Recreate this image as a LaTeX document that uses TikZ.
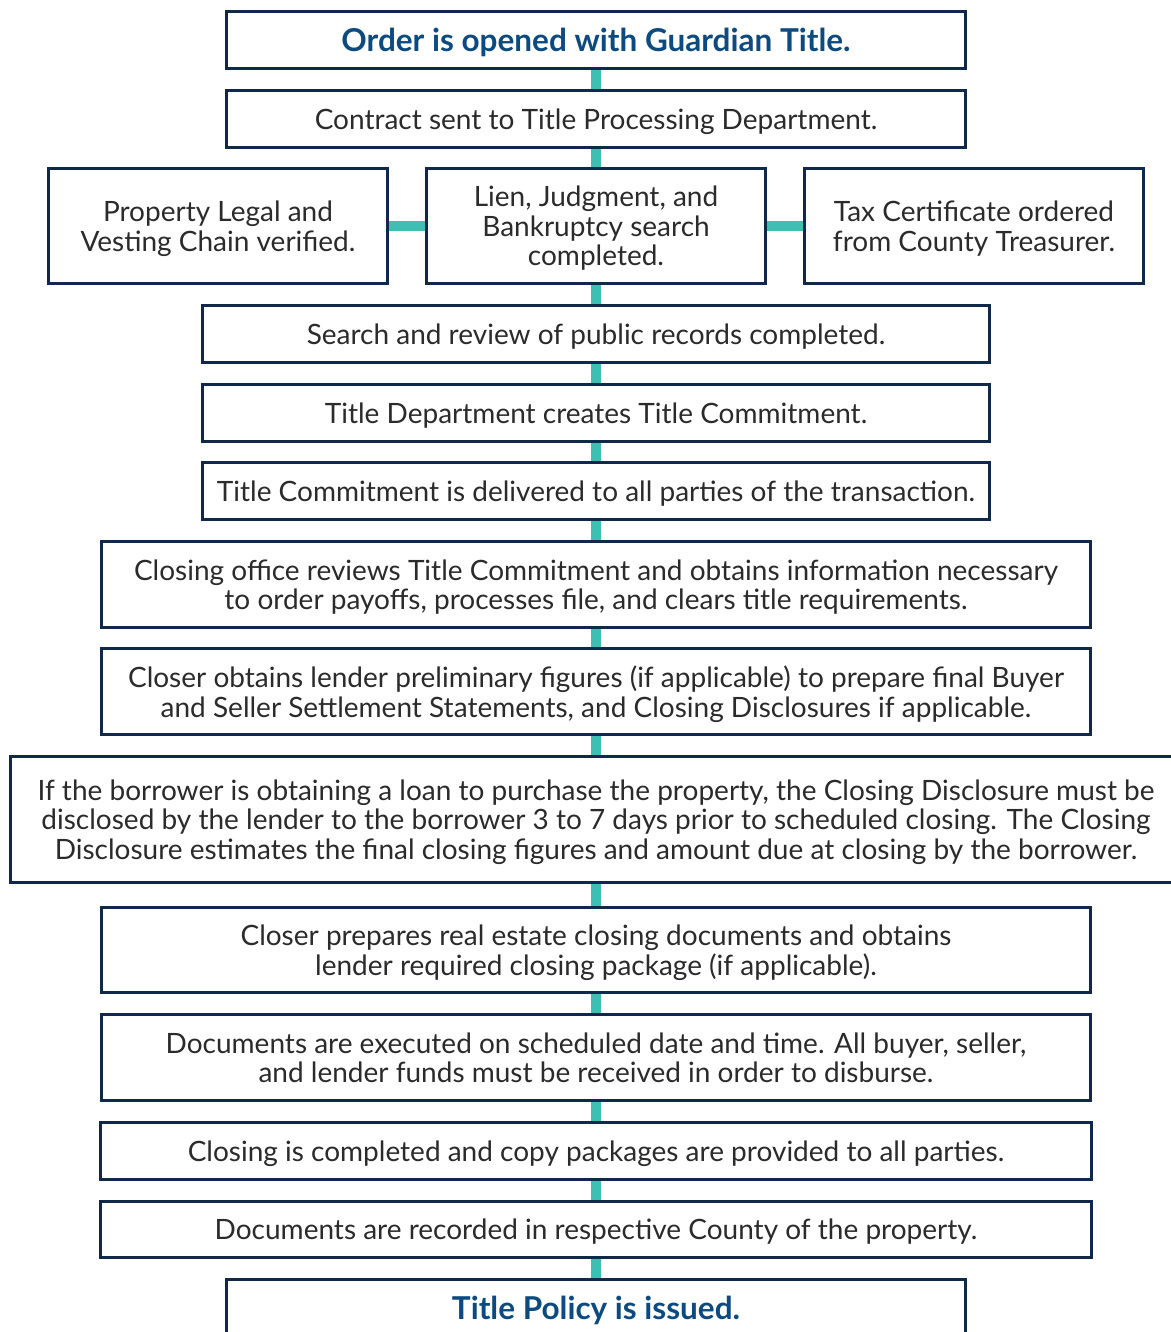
\documentclass[tikz,border=0pt]{standalone}
\usepackage{fontspec}
\setmainfont{Lato}
\usepackage{tikz}
\definecolor{navy}{HTML}{10294A}
\definecolor{linkteal}{HTML}{3DBFB2}
\definecolor{headblue}{HTML}{0D4A80}
\definecolor{bodygray}{HTML}{2B2B2B}

\begin{document}
\begin{tikzpicture}[x=1pt,y=-1pt,
  box/.style={draw=navy,line width=3pt,fill=white,align=center,inner sep=0pt,
    text depth=0pt,text=bodygray,font=\fontsize{28}{29.5}\selectfont},
  headbox/.style={box,text=headblue,font=\fontsize{31.5}{32}\selectfont\bfseries},
  link/.style={linkteal,line width=10pt}]
\useasboundingbox (0,0) rectangle (1170,1332);

\node[headbox,minimum width=739pt,minimum height=57pt] (order) at (596,40) {Order is opened with Guardian Title.};
\node[box,minimum width=739pt,minimum height=57pt] (contract) at (596,119) {Contract sent to Title Processing Department.};
\node[box,minimum width=339pt,minimum height=115pt] (legal) at (218,226) {Property Legal and\\Vesting Chain verified.};
\node[box,minimum width=339pt,minimum height=115pt] (lien) at (596,226) {Lien, Judgment, and\\Bankruptcy search\\completed.};
\node[box,minimum width=339pt,minimum height=115pt] (tax) at (974,226) {Tax Certificate ordered\\from County Treasurer.};
\node[box,minimum width=787pt,minimum height=57pt] (search) at (596,334) {Search and review of public records completed.};
\node[box,minimum width=787pt,minimum height=57pt] (commit) at (596,413) {Title Department creates Title Commitment.};
\node[box,minimum width=787pt,minimum height=57pt] (deliver) at (596,491) {Title Commitment is delivered to all parties of the transaction.};
\node[box,minimum width=989pt,minimum height=86pt] (review) at (596,584.5) {Closing office reviews Title Commitment and obtains information necessary\\to order payoffs, processes file, and clears title requirements.};
\node[box,minimum width=989pt,minimum height=86pt] (figures) at (596,691.5) {Closer obtains lender preliminary figures (if applicable) to prepare final Buyer\\and Seller Settlement Statements, and Closing Disclosures if applicable.};
\node[box,minimum width=1171pt,minimum height=126pt] (disclose) at (596,819.5) {If the borrower is obtaining a loan to purchase the property, the Closing Disclosure must be\\disclosed by the lender to the borrower 3 to 7 days prior to scheduled closing. The Closing\\Disclosure estimates the final closing figures and amount due at closing by the borrower.};
\node[box,minimum width=989pt,minimum height=85pt] (prepare) at (596,950) {Closer prepares real estate closing documents and obtains\\lender required closing package (if applicable).};
\node[box,minimum width=989pt,minimum height=86pt] (execute) at (596,1057.5) {Documents are executed on scheduled date and time. All buyer, seller,\\and lender funds must be received in order to disburse.};
\node[box,minimum width=991pt,minimum height=57pt] (closing) at (596,1151) {Closing is completed and copy packages are provided to all parties.};
\node[box,minimum width=991pt,minimum height=56pt] (record) at (596,1229.5) {Documents are recorded in respective County of the property.};
\node[headbox,minimum width=739pt,minimum height=57pt] (policy) at (596,1308) {Title Policy is issued.};

% connectors
\draw[link] (order) -- (contract);
\draw[link] (contract) -- (lien);
\draw[link] (legal) -- (lien);
\draw[link] (lien) -- (tax);
\draw[link] (lien) -- (search);
\draw[link] (search) -- (commit);
\draw[link] (commit) -- (deliver);
\draw[link] (deliver) -- (review);
\draw[link] (review) -- (figures);
\draw[link] (figures) -- (disclose);
\draw[link] (disclose) -- (prepare);
\draw[link] (prepare) -- (execute);
\draw[link] (execute) -- (closing);
\draw[link] (closing) -- (record);
\draw[link] (record) -- (policy);
\end{tikzpicture}
\end{document}
